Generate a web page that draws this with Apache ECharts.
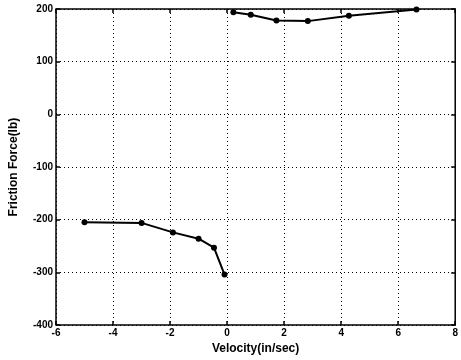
<!DOCTYPE html>
<html>
<head>
    <meta charset="UTF-8">
    <title>Friction Force vs Velocity</title>
    <script src="https://cdn.jsdelivr.net/npm/echarts@6/dist/echarts.min.js"></script>
    <style>
        html, body { margin: 0; padding: 0; background: #fff; }
        #chart { width: 461px; height: 360px; }
    </style>
</head>
<body>
    <div id="chart"></div>
    <script>
        // negative velocity branch
        var negVelocity = [-5.0, -3.0, -1.9, -1.0, -0.46, -0.09];
        var negForce = [-205, -206, -224, -236, -253, -304];
        // positive velocity branch
        var posVelocity = [0.22, 0.83, 1.73, 2.83, 4.27, 6.64];
        var posForce = [194, 189, 178, 177, 187, 199];

        var xTicks = [-6, -4, -2, 0, 2, 4, 6, 8];
        var yTicks = [-400, -300, -200, -100, 0, 100, 200];

        function pairs(xs, ys) {
            return xs.map(function (x, i) { return [x, ys[i]]; });
        }

        var font = 'Liberation Sans';
        var chart = echarts.init(document.getElementById('chart'));

        var lineSeries = function (data) {
            return {
                type: 'line',
                data: data,
                symbol: 'circle',
                symbolSize: 6,
                itemStyle: { color: '#000' },
                lineStyle: { color: '#000', width: 2 },
                animation: false
            };
        };

        var labelStyle = { fontFamily: font, fontWeight: 'bold', fontSize: 10, color: '#000', margin: 3 };
        var tickStyle = { inside: true, length: 4, lineStyle: { color: '#000', width: 1.5 } };
        var gridLine = { show: true, lineStyle: { color: '#000', type: [1, 3], width: 1 } };
        var nameStyle = { fontFamily: font, fontWeight: 'bold', fontSize: 12, color: '#000' };

        // mirrored axes for the ticks on top and right
        var mirrorX = {
            type: 'value', position: 'top',
            min: xTicks[0], max: xTicks[xTicks.length - 1], interval: 2,
            axisLine: { show: false, onZero: false },
            axisTick: tickStyle, axisLabel: { show: false }, splitLine: { show: false }
        };
        var mirrorY = {
            type: 'value', position: 'right',
            min: yTicks[0], max: yTicks[yTicks.length - 1], interval: 100,
            axisLine: { show: false, onZero: false },
            axisTick: tickStyle, axisLabel: { show: false }, splitLine: { show: false }
        };

        chart.setOption({
            backgroundColor: '#fff',
            grid: {
                left: 56, right: 2, top: 9, bottom: 34,
                show: true,
                borderColor: '#000',
                borderWidth: 1.5
            },
            xAxis: [{
                type: 'value',
                position: 'bottom',
                min: xTicks[0], max: xTicks[xTicks.length - 1], interval: 2,
                name: 'Velocity(in/sec)',
                nameLocation: 'middle',
                nameGap: 16,
                nameTextStyle: nameStyle,
                axisLine: { show: false, onZero: false },
                axisTick: tickStyle,
                axisLabel: labelStyle,
                splitLine: gridLine
            }, mirrorX],
            yAxis: [{
                type: 'value',
                position: 'left',
                min: yTicks[0], max: yTicks[yTicks.length - 1], interval: 100,
                name: 'Friction Force(lb)',
                nameLocation: 'middle',
                nameGap: 36,
                nameTextStyle: nameStyle,
                axisLine: { show: false, onZero: false },
                axisTick: tickStyle,
                axisLabel: labelStyle,
                splitLine: gridLine
            }, mirrorY],
            series: [
                lineSeries(pairs(negVelocity, negForce)),
                lineSeries(pairs(posVelocity, posForce))
            ]
        });
    </script>
</body>
</html>
